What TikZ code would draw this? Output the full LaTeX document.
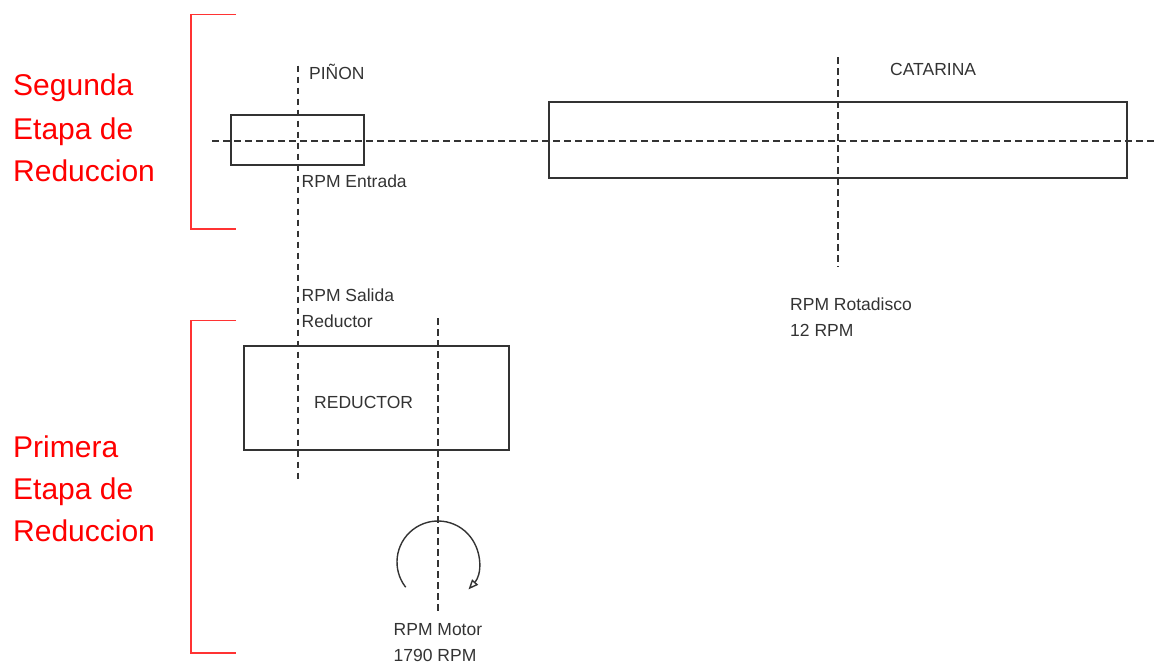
\documentclass[tikz,border=0pt]{standalone}
\usepackage{fontspec}
\setmainfont{Liberation Sans}
\usetikzlibrary{arrows.meta}
\definecolor{ink}{HTML}{333333}
\tikzset{
  part/.style={draw=ink, line width=1.3pt, inner sep=0pt, fill=none},
  axis/.style={draw=ink, line width=1.6pt, dash pattern=on 6.5pt off 4.5pt},
  bracket/.style={draw=red!80!white, line width=1.3pt},
  lbl/.style={anchor=base west, inner sep=0pt, text=ink, font=\fontsize{17.5}{25.5}\selectfont, align=left},
  stage/.style={anchor=base west, inner sep=0pt, text=red, font=\fontsize{30}{43}\selectfont, align=left}
}
\begin{document}
\begin{tikzpicture}[x=1pt,y=-1pt]
\useasboundingbox (0,0) rectangle (1156,665);
\clip (0,0) rectangle (1156,665);
% brackets
\draw[bracket] (236,14.5) -- (191,14.5) -- (191,229) -- (236,229);
\draw[bracket] (236,320.5) -- (191,320.5) -- (191,653) -- (236,653);
% stage labels
\node[stage] (s2a) at (13,95) {Segunda};
\node[stage] (s2b) at (13,139) {Etapa de};
\node[stage] (s2c) at (13,181) {Reduccion};
\node[stage] (s1a) at (13,457) {Primera};
\node[stage] (s1b) at (13,499) {Etapa de};
\node[stage] (s1c) at (13,541) {Reduccion};
% parts
\node[part, minimum width=133pt, minimum height=50pt] (pinon) at (297.5,140) {};
\node[part, minimum width=578pt, minimum height=76pt] (catarina) at (838,140) {};
\node[part, minimum width=265pt, minimum height=104pt] (reductor) at (376.5,398) {};
% axes
\coordinate (hL) at (212,140.7);
\coordinate (hR) at (1156,140.7);
\coordinate (pT) at (298,65.5);
\coordinate (pB) at (298,481);
\coordinate (cT) at (838,57);
\coordinate (cB) at (838,267);
\coordinate (mT) at (438,318);
\coordinate (mB) at (438,614);
\draw[axis] (hL) -- (hR);
\draw[axis] (pT) -- (pB);
\draw[axis] (cT) -- (cB);
\draw[axis] (mT) -- (mB);
% rotation arrow
\coordinate (rc) at (438,562);
\draw[draw=ink, line width=1.4pt, -{Triangle[open, length=10pt, width=8pt]}]
  ([shift={(142:41)}]rc) arc[start angle=142, end angle=402, radius=41];
% labels
\node[lbl] (tpinon) at (309,79) {PIÑON};
\node[lbl] (tent) at (301.5,187) {RPM Entrada};
\node[lbl] (tcat) at (890,75) {CATARINA};
\node[lbl] (trot) at (790,336) {RPM Rotadisco\\12 RPM};
\node[lbl] (tsal) at (301.5,327) {RPM Salida\\Reductor};
\node[lbl] (tred) at (314,408) {REDUCTOR};
\node[lbl] (tmot) at (393.5,661) {RPM Motor\\1790 RPM};
\end{tikzpicture}
\end{document}
